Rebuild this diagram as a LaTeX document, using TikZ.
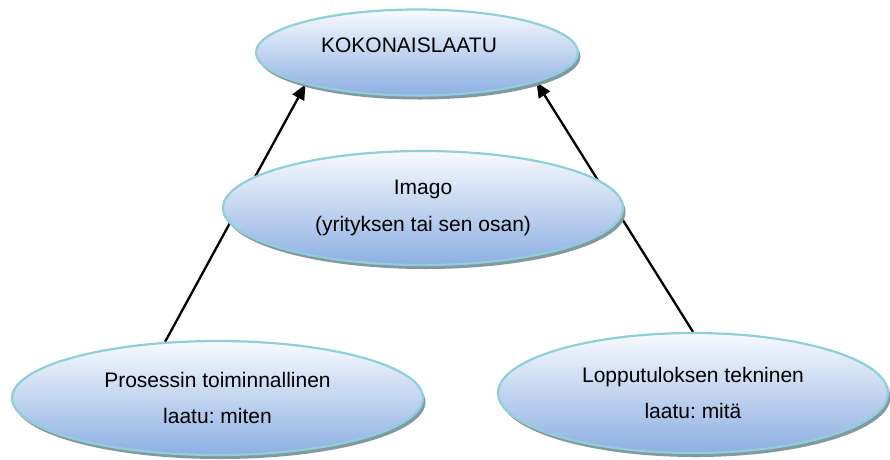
\documentclass[tikz,border=0pt]{standalone}
\usepackage{fontspec}
\setmainfont{Liberation Sans}
\frenchspacing
\usetikzlibrary{shapes.geometric,shadows,arrows.meta}
\pgfdeclarelayer{background}
\pgfsetlayers{background,main}

\definecolor{rimteal}{HTML}{8ECFDA}
\definecolor{filltop}{HTML}{F8FAFE}
\definecolor{fillmid}{HTML}{C6D5EF}
\definecolor{fillbot}{HTML}{8CAFE2}
\definecolor{shadowgray}{HTML}{84999F}

\tikzset{
  bubble/.style={ellipse, draw=rimteal, line width=2.2pt, inner sep=0pt,
    top color=filltop, middle color=fillmid, bottom color=fillbot,
    drop shadow={shadow xshift=2.5pt, shadow yshift=-4pt, fill=shadowgray, opacity=1},
    align=center, font=\fontsize{21}{36.5}\selectfont},
  link/.style={line width=2.3pt, -{Triangle[length=15pt,width=13pt]}}
}

\begin{document}
\begin{tikzpicture}[x=1pt, y=-1pt]
\useasboundingbox (0,0) rectangle (890,459);

% overall quality at the top
\node[bubble, minimum width=322pt, minimum height=86pt,
      label={[xshift=-8pt, yshift=7pt, font=\fontsize{21}{25}\selectfont]center:KOKONAISLAATU}]
  (total) at (417,52.5) {};

% image of the company
\node[bubble, minimum width=400pt, minimum height=114pt]
  (imago) at (423,208) {Imago\\(yrityksen tai sen osan)};

% functional quality of the process
\node[bubble, minimum width=411pt, minimum height=114pt]
  (process) at (217.5,398) {Prosessin toiminnallinen\\laatu: miten};

% technical quality of the outcome
\node[bubble, minimum width=390pt, minimum height=120pt]
  (outcome) at (693,393) {Lopputuloksen tekninen\\laatu: mitä};

% arrows pass behind the middle bubble
\begin{pgfonlayer}{background}
  \draw[link] (process.133) -- (total.196.2);
  \draw[link] (outcome.90) -- (total.346.8);
\end{pgfonlayer}
\end{tikzpicture}
\end{document}
